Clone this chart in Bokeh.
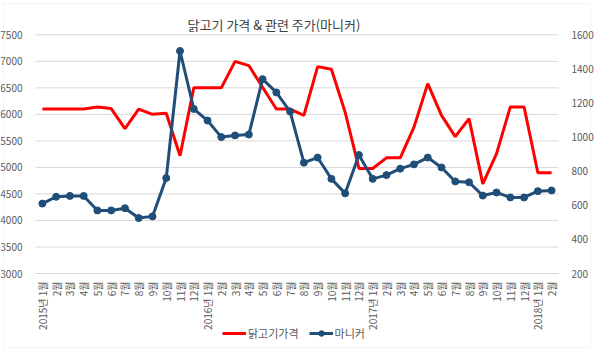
from bokeh.plotting import figure
from bokeh.models import (Range1d, LinearAxis, FixedTicker, Legend, LegendItem,
                          BoxAnnotation, Label)
from bokeh.embed import file_html
from bokeh.resources import INLINE

# ---- data ----
months = ["2015년 1월", "2월", "3월", "4월", "5월", "6월", "7월", "8월", "9월", "10월", "11월", "12월",
          "2016년 1월", "2월", "3월", "4월", "5월", "6월", "7월", "8월", "9월", "10월", "11월", "12월",
          "2017년 1월", "2월", "3월", "4월", "5월", "6월", "7월", "8월", "9월", "10월", "11월", "12월",
          "2018년 1월", "2월"]
chicken_price = [6100, 6100, 6100, 6100, 6140, 6110, 5730, 6100, 6000, 6020, 5220, 6500,
                 6500, 6500, 7000, 6920, 6510, 6100, 6100, 5980, 6900, 6850, 6040, 4980,
                 4980, 5180, 5180, 5760, 6580, 5980, 5580, 5920, 4690, 5260, 6140, 6140,
                 4900, 4900]
maniker_price = [610, 650, 655, 655, 570, 570, 583, 525, 535, 760, 1505, 1165,
                 1097, 1000, 1010, 1015, 1340, 1262, 1150, 850, 880, 755, 670, 895,
                 755, 777, 815, 840, 880, 822, 740, 735, 657, 675, 646, 646,
                 683, 687]
left_ticks = [3000, 3500, 4000, 4500, 5000, 5500, 6000, 6500, 7000, 7500]
right_ticks = [200, 400, 600, 800, 1000, 1200, 1400, 1600]
series_names = ["닭고기가격", "마니커"]
title_text = "닭고기 가격 & 관련 주가(마니커)"

FONT = "Noto Sans CJK KR"
GRAY = "#595959"
RED = "#ff0000"
BLUE = "#1f4e79"
GRID = "#d9d9d9"

# ---- layout (pixels) ----
W, H = 596, 352
PL, PR, PT, PB = 35.0, 558.0, 34.3, 273.0   # plot area edges in canvas pixels

x = list(range(len(months)))
xs, xe = -0.5, len(months) - 0.5
kx = (xe - xs) / (PR - PL)
ly0, ly1 = left_ticks[0], left_ticks[-1]
kl = (ly1 - ly0) / (PB - PT)
ry0, ry1 = right_ticks[0], right_ticks[-1]
kr = (ry1 - ry0) / (PB - PT)

p = figure(width=W, height=H, output_backend="svg", toolbar_location=None,
           title_location=None,
           x_range=Range1d(xs - PL * kx, xe + (W - PR) * kx),
           y_range=Range1d(ly0 - (H - PB) * kl, ly1 + PT * kl),
           min_border=0)
p.extra_y_ranges = {"right": Range1d(ry0 - (H - PB) * kr, ry1 + PT * kr)}
p.outline_line_color = None
p.background_fill_color = "white"
p.border_fill_color = "white"
p.xgrid.grid_line_color = None
p.ygrid.grid_line_color = None

# horizontal gridlines across the plot area only
p.segment(x0=[xs] * len(left_ticks), y0=left_ticks, x1=[xe] * len(left_ticks), y1=left_ticks,
          line_color=GRID, line_width=1, level="underlay")

xa = p.xaxis[0]
xa.fixed_location = ly0
xa.bounds = (xs, xe)
xa.ticker = FixedTicker(ticks=x)
xa.major_label_overrides = {i: lab for i, lab in enumerate(months)}
xa.major_label_orientation = 3.14159265 / 2
xa.major_label_text_font = FONT
xa.major_label_text_font_size = "10px"
xa.major_label_text_color = GRAY
xa.major_tick_line_color = None
xa.minor_tick_line_color = None
xa.axis_line_color = GRID
xa.major_label_standoff = 2

ya = p.yaxis[0]
ya.fixed_location = xs
ya.ticker = FixedTicker(ticks=left_ticks)
ya.major_label_text_font = FONT
ya.major_label_text_font_size = "10px"
ya.major_label_text_color = GRAY
ya.major_tick_line_color = None
ya.minor_tick_line_color = None
ya.axis_line_color = None
ya.major_label_standoff = 7

ra = LinearAxis(y_range_name="right", ticker=FixedTicker(ticks=right_ticks))
ra.fixed_location = xe
ra.major_label_text_font = FONT
ra.major_label_text_font_size = "10px"
ra.major_label_text_color = GRAY
ra.major_tick_line_color = None
ra.minor_tick_line_color = None
ra.axis_line_color = None
ra.major_label_standoff = 7
p.add_layout(ra, "right")

r1 = p.line(x, chicken_price, line_color=RED, line_width=3)
r2 = p.line(x, maniker_price, y_range_name="right", line_color=BLUE, line_width=3)
r3 = p.scatter(x, maniker_price, y_range_name="right", size=7, fill_color=BLUE, line_color=BLUE)

legend = Legend(items=[LegendItem(label=series_names[0], renderers=[r1]),
                       LegendItem(label=series_names[1], renderers=[r2, r3])],
                location=(222, 11), orientation="horizontal",
                padding=0, margin=0, spacing=10, label_standoff=2,
                glyph_width=24, glyph_height=14, label_height=14,
                label_text_font=FONT, label_text_font_size="11px", label_text_color=GRAY,
                background_fill_alpha=0, border_line_color=None)
p.add_layout(legend)

title = Label(x=273.5, y=H - 24, x_units="screen", y_units="screen", text=title_text,
              text_align="center", text_baseline="middle", text_font=FONT,
              text_font_size="13px", text_color="#404040")
p.add_layout(title)

border = BoxAnnotation(left=3, right=590, top=3, bottom=347,
                       left_units="canvas", right_units="canvas",
                       top_units="canvas", bottom_units="canvas",
                       fill_alpha=0, line_color=GRID, line_width=1, level="overlay")
p.add_layout(border)

open("out.html", "w").write(file_html(p, INLINE))
